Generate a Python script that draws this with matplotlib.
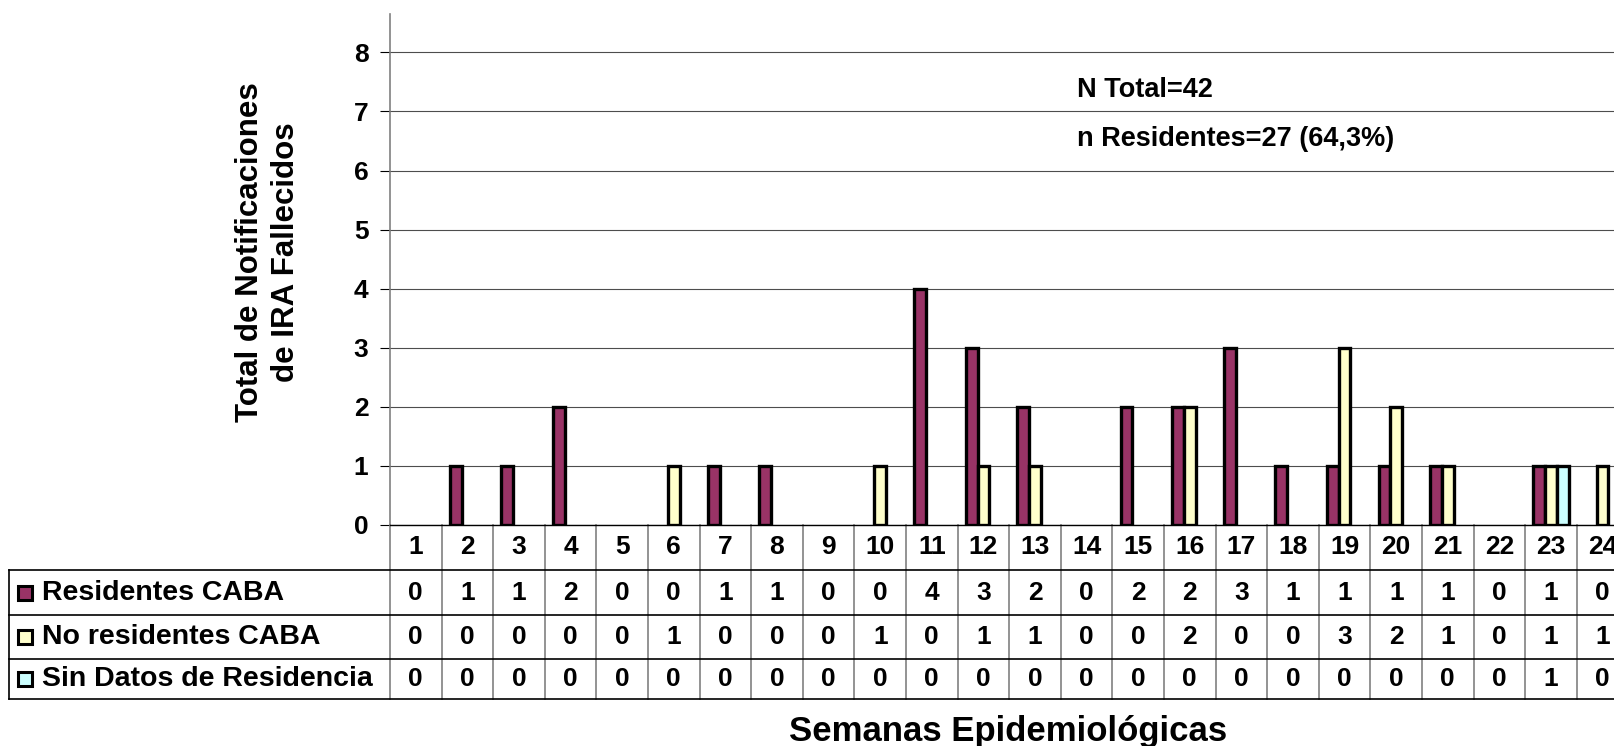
import numpy as np
import matplotlib.pyplot as plt
import matplotlib.transforms as mtransforms

plt.rcParams['font.family'] = ['Liberation Sans', 'DejaVu Sans']
plt.rcParams['font.weight'] = 'bold'

# ---------------- data ----------------
semanas = list(range(1, 25))
residentes = [0, 1, 1, 2, 0, 0, 1, 1, 0, 0, 4, 3, 2, 0, 2, 2, 3, 1, 1, 1, 1, 0, 1, 0]
no_residentes = [0, 0, 0, 0, 0, 1, 0, 0, 0, 1, 0, 1, 1, 0, 0, 2, 0, 0, 3, 2, 1, 0, 1, 1]
sin_datos = [0, 0, 0, 0, 0, 0, 0, 0, 0, 0, 0, 0, 0, 0, 0, 0, 0, 0, 0, 0, 0, 0, 1, 0]

series = [("Residentes CABA", residentes, "#993366"),
          ("No residentes CABA", no_residentes, "#FFFFCC"),
          ("Sin Datos de Residencia", sin_datos, "#CCFFFF")]

# ---------------- figure ----------------
W, H = 1614, 746
fig = plt.figure(figsize=(W / 100, H / 100), dpi=100)
col_w = 51.6
ax_left, ax_bot, ax_top = 390, 525, 14
ax = fig.add_axes([ax_left / W, 1 - ax_bot / H, len(semanas) * col_w / W, (ax_bot - ax_top) / H])

ax.set_xlim(0.5, len(semanas) + 0.5)
ax.set_ylim(0, 8.65)

bw = 0.228
x = np.array(semanas)
for i, (nombre, vals, color) in enumerate(series):
    v = np.array(vals)
    m = v > 0
    ax.bar(x[m] + (i - 1) * bw, v[m], width=bw, color=color, edgecolor='black',
           linewidth=2.4, zorder=3)

ax.set_yticks(range(0, 9))
ax.tick_params(axis='y', length=7.5, width=0.8, pad=8, labelsize=19, colors='black')
ax.set_xticks([])
ax.grid(axis='y', color='#4d4d4d', lw=0.8, zorder=0)
for s in ['top', 'right']:
    ax.spines[s].set_visible(False)
ax.spines['left'].set_color('#808080')
ax.spines['left'].set_linewidth(1.2)
ax.spines['bottom'].set_color('black')
ax.spines['bottom'].set_linewidth(1.0)

# annotations
ax.text(13.81, 7.37, "N Total=42", fontsize=19.5, fontweight='bold', va='center', ha='left')
ax.text(13.81, 6.53, "n Residentes=27 (64,3%)", fontsize=19.5, fontweight='bold', va='center', ha='left')

# ---------------- data table ----------------
hgt = ax_bot - ax_top
def fy(py):
    return (ax_bot - py) / hgt

def fx(px):
    return (px - ax_left) / (len(semanas) * col_w)

rows = [525, 570, 615, 659, 699]
blend = mtransforms.blended_transform_factory(ax.transData, ax.transAxes)

# vertical separators
for k in range(0, len(semanas) + 1):
    ax.plot([k + 0.5, k + 0.5], [fy(rows[0]), fy(rows[-1])], transform=blend,
            color='#808080', lw=1.2, clip_on=False)
# horizontal lines
for py in rows[1:]:
    ax.plot([fx(9), 1.05], [fy(py), fy(py)], transform=ax.transAxes,
            color='black', lw=1.2, clip_on=False)
ax.plot([fx(9), fx(9)], [fy(rows[1]), fy(rows[-1])], transform=ax.transAxes,
        color='black', lw=1.2, clip_on=False)

# header: week numbers
for s in semanas:
    ax.text(s, fy((rows[0] + rows[1]) / 2), str(s), transform=blend, ha='center', va='center',
            fontsize=19, fontweight='bold', clip_on=False)

for r, (nombre, vals, color) in enumerate(series):
    yc = fy((rows[r + 1] + rows[r + 2]) / 2)
    ax.plot([fx(25)], [yc], marker='s', markersize=10, markerfacecolor=color,
            markeredgecolor='black', markeredgewidth=2.2, transform=ax.transAxes, clip_on=False)
    ax.text(fx(42), yc, nombre, transform=ax.transAxes, ha='left', va='center',
            fontsize=20.5, fontweight='bold')
    for s, v in zip(semanas, vals):
        ax.text(s, yc, str(v), transform=blend, ha='center', va='center',
                fontsize=19, fontweight='bold', clip_on=False)

# axis titles
ax.text(fx(268), fy(252), "Total de Notificaciones\nde IRA Fallecidos", transform=ax.transAxes,
        rotation=90, ha='center', va='center', fontsize=22.5, fontweight='bold', linespacing=1.3)
ax.text(fx(1008), fy(731), "Semanas Epidemiológicas", transform=ax.transAxes,
        ha='center', va='center', fontsize=25, fontweight='bold')

fig.savefig("out.png", dpi=100)
